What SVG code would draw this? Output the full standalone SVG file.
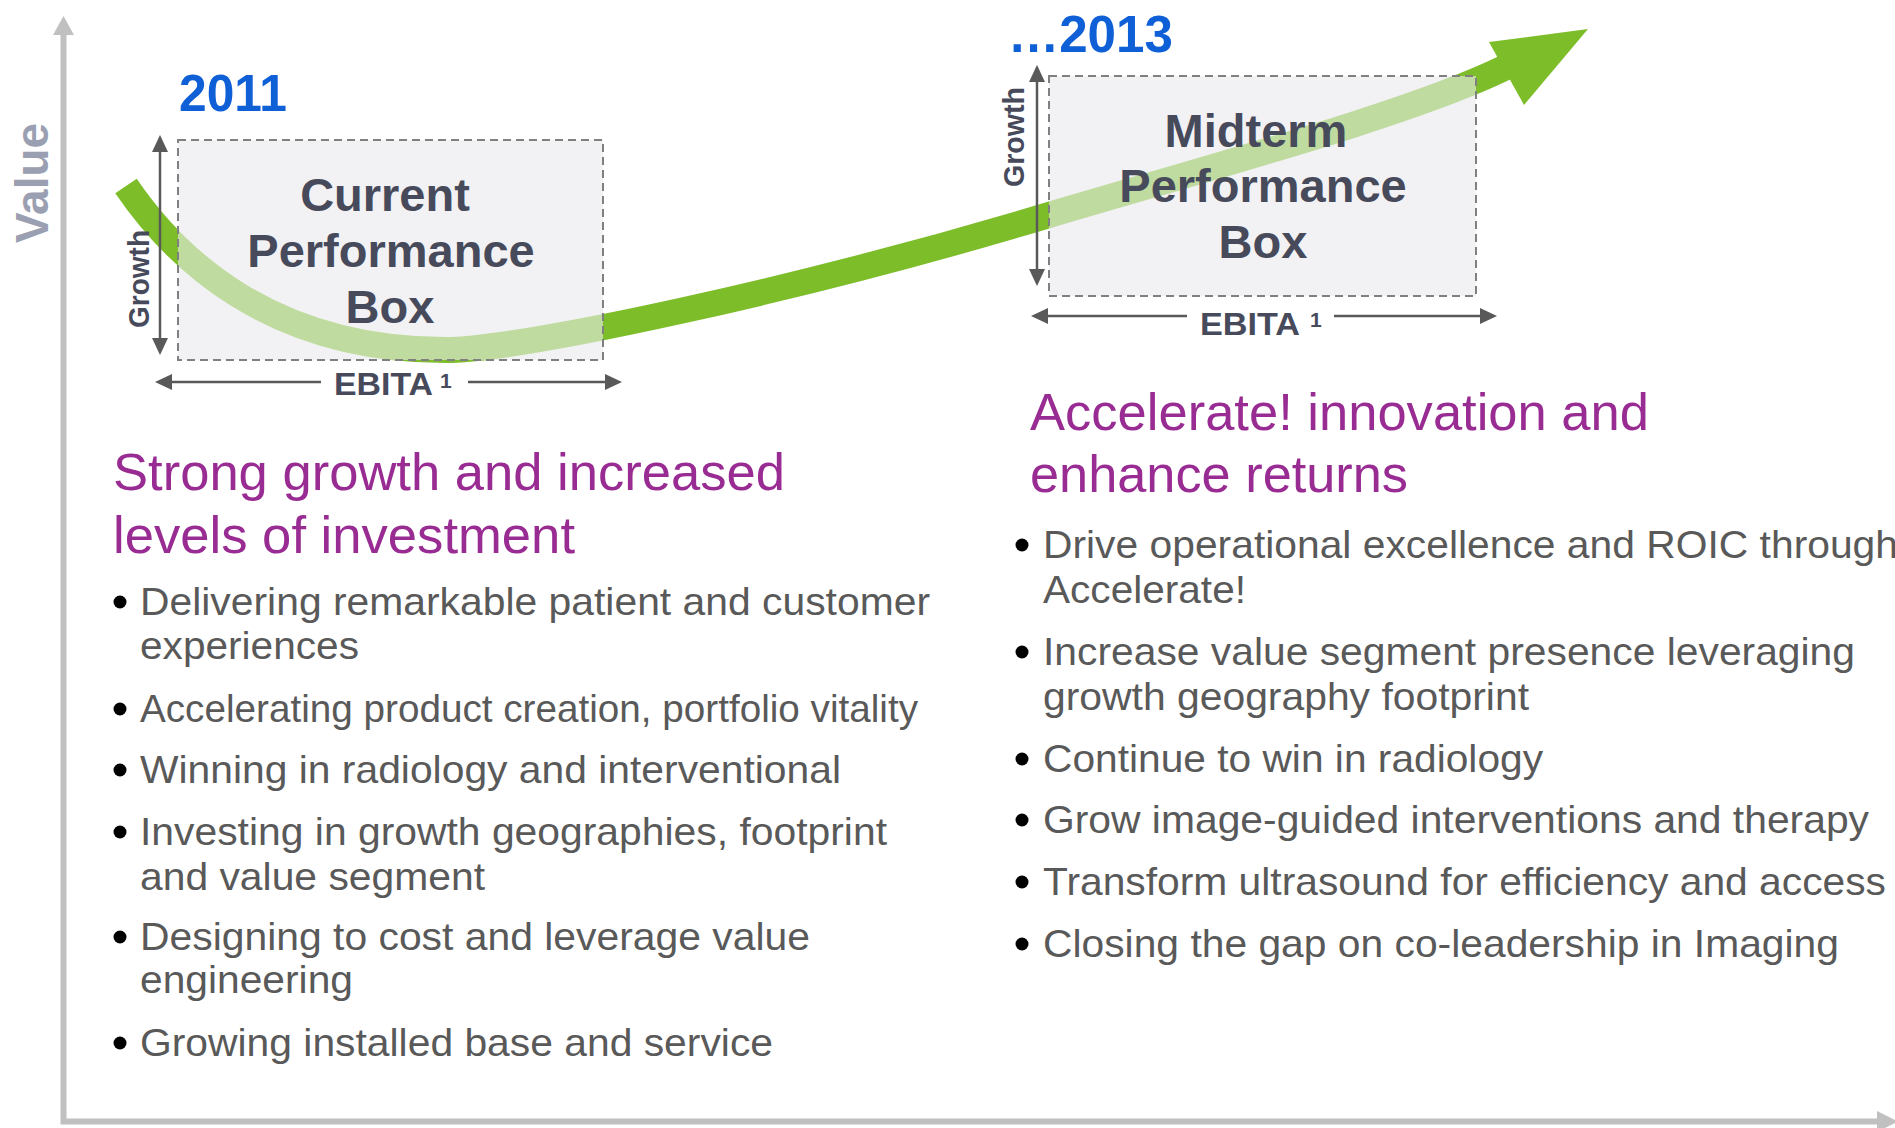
<svg xmlns="http://www.w3.org/2000/svg" width="1895" height="1128" viewBox="0 0 1895 1128">
  <defs>
    <style>
      .sans { font-family: "Liberation Sans", Arial, sans-serif; }
      .boxfill { fill: #f2f2f4; }
      .boxveil { fill: #f2f2f4; fill-opacity: 0.58; }
      .boxedge { fill: none; stroke: #808080; stroke-width: 2; stroke-dasharray: 8 5; }
      .boxlabel { font-family: "Liberation Sans", Arial, sans-serif; font-weight: bold; font-size: 47px; fill: #474a5b; text-anchor: middle; }
      .dim { stroke: #595959; stroke-width: 2.5; fill: none; }
      .dimlabel { font-family: "Liberation Sans", Arial, sans-serif; font-weight: bold; fill: #474a5b; }
      .year { font-family: "Liberation Sans", Arial, sans-serif; font-weight: bold; font-size: 51px; fill: #0f5fd7; }
      .heading { font-family: "Liberation Sans", Arial, sans-serif; font-size: 52px; fill: #992c93; }
      .item { font-family: "Liberation Sans", Arial, sans-serif; font-size: 39px; fill: #595959; }
      .dot { fill: #000; }
      .axis { stroke: #c0c0c0; stroke-width: 6; fill: none; }
      .trend { stroke: #7dbd2a; stroke-width: 26; fill: none; stroke-linecap: butt; }
    </style>
    <marker id="tip" viewBox="0 -8 17 16" refX="0" refY="0" markerWidth="17" markerHeight="16" markerUnits="userSpaceOnUse" orient="auto-start-reverse">
      <path d="M0,-8 L17,0 L0,8 Z" fill="#595959"/>
    </marker>
  </defs>

  <rect width="1895" height="1128" fill="#ffffff"/>

  <!-- value / time axes -->
  <g id="axes">
    <path class="axis" d="M63.5,34 V1121.5 H1878"/>
    <polygon points="53,35 63.5,16 74,35" fill="#c0c0c0"/>
    <polygon points="1877,1111 1898,1121.5 1877,1132" fill="#c0c0c0"/>
    <text class="sans" transform="translate(48,183) rotate(-90)" text-anchor="middle" font-size="47" font-weight="bold" fill="#9aa0b2" textLength="120" lengthAdjust="spacingAndGlyphs">Value</text>
  </g>

  <!-- opaque box backgrounds, drawn under the trend line -->
  <g id="box-backgrounds">
    <rect class="boxfill" x="178" y="140" width="425" height="220"/>
    <rect class="boxfill" x="1049" y="76" width="427" height="220"/>
  </g>

  <!-- trend line from the current box to the midterm box -->
  <g id="connectors">
    <path class="trend" d="M126,186 C175,258 270,350 445,350 C520,350 800,290 1049,215 C1200,170 1422,111 1512,64"/>
    <polygon points="1489,42 1588,29 1524,105" fill="#7dbd2a"/>
  </g>

  <g id="box-current">
    <rect class="boxveil" x="178" y="140" width="425" height="220"/>
    <rect class="boxedge" x="178" y="140" width="425" height="220"/>
    <text class="boxlabel" x="385" y="211">Current</text>
    <text class="boxlabel" x="391" y="267">Performance</text>
    <text class="boxlabel" x="390" y="323">Box</text>
    <text class="year" x="179" y="111" textLength="108" lengthAdjust="spacingAndGlyphs">2011</text>
    <line class="dim" x1="160" y1="152" x2="160" y2="338" marker-start="url(#tip)" marker-end="url(#tip)"/>
    <text class="dimlabel" font-size="29" transform="translate(149,279) rotate(-90)" text-anchor="middle" textLength="98" lengthAdjust="spacingAndGlyphs">Growth</text>
    <line class="dim" x1="172" y1="382" x2="321" y2="382" marker-start="url(#tip)"/>
    <line class="dim" x1="468" y1="382" x2="605" y2="382" marker-end="url(#tip)"/>
    <text class="dimlabel" font-size="32" x="334" y="395" textLength="99" lengthAdjust="spacingAndGlyphs">EBITA</text>
    <text class="dimlabel" font-size="21" x="440" y="388">1</text>
  </g>

  <g id="box-midterm">
    <rect class="boxveil" x="1049" y="76" width="427" height="220"/>
    <rect class="boxedge" x="1049" y="76" width="427" height="220"/>
    <text class="boxlabel" x="1256" y="147">Midterm</text>
    <text class="boxlabel" x="1263" y="202">Performance</text>
    <text class="boxlabel" x="1263" y="258">Box</text>
    <text class="year" x="1008" y="52" textLength="165" lengthAdjust="spacingAndGlyphs">…2013</text>
    <line class="dim" x1="1037" y1="82" x2="1037" y2="269" marker-start="url(#tip)" marker-end="url(#tip)"/>
    <text class="dimlabel" font-size="29" transform="translate(1024,137) rotate(-90)" text-anchor="middle" textLength="100" lengthAdjust="spacingAndGlyphs">Growth</text>
    <line class="dim" x1="1048" y1="316" x2="1187" y2="316" marker-start="url(#tip)"/>
    <line class="dim" x1="1334" y1="316" x2="1480" y2="316" marker-end="url(#tip)"/>
    <text class="dimlabel" font-size="32" x="1200" y="335" textLength="100" lengthAdjust="spacingAndGlyphs">EBITA</text>
    <text class="dimlabel" font-size="21" x="1310" y="327">1</text>
  </g>

  <!-- 2011 priorities -->
  <g id="list-current">
    <text class="heading" x="113" y="490" textLength="672" lengthAdjust="spacingAndGlyphs">Strong growth and increased</text>
    <text class="heading" x="113" y="553" textLength="462" lengthAdjust="spacingAndGlyphs">levels of investment</text>

    <circle class="dot" cx="120" cy="602" r="6.5"/>
    <text class="item" x="140" y="615" textLength="790" lengthAdjust="spacingAndGlyphs">Delivering remarkable patient and customer</text>
    <text class="item" x="140" y="659" textLength="219" lengthAdjust="spacingAndGlyphs">experiences</text>

    <circle class="dot" cx="120" cy="709" r="6.5"/>
    <text class="item" x="140" y="722" textLength="778" lengthAdjust="spacingAndGlyphs">Accelerating product creation, portfolio vitality</text>

    <circle class="dot" cx="120" cy="770" r="6.5"/>
    <text class="item" x="140" y="783" textLength="701" lengthAdjust="spacingAndGlyphs">Winning in radiology and interventional</text>

    <circle class="dot" cx="120" cy="832" r="6.5"/>
    <text class="item" x="140" y="845" textLength="747" lengthAdjust="spacingAndGlyphs">Investing in growth geographies, footprint</text>
    <text class="item" x="140" y="890" textLength="345" lengthAdjust="spacingAndGlyphs">and value segment</text>

    <circle class="dot" cx="120" cy="937" r="6.5"/>
    <text class="item" x="140" y="950" textLength="670" lengthAdjust="spacingAndGlyphs">Designing to cost and leverage value</text>
    <text class="item" x="140" y="993" textLength="213" lengthAdjust="spacingAndGlyphs">engineering</text>

    <circle class="dot" cx="120" cy="1043" r="6.5"/>
    <text class="item" x="140" y="1056" textLength="633" lengthAdjust="spacingAndGlyphs">Growing installed base and service</text>
  </g>

  <!-- 2013 priorities -->
  <g id="list-midterm">
    <text class="heading" x="1030" y="430" textLength="619" lengthAdjust="spacingAndGlyphs">Accelerate! innovation and</text>
    <text class="heading" x="1030" y="492" textLength="378" lengthAdjust="spacingAndGlyphs">enhance returns</text>

    <circle class="dot" cx="1022" cy="545" r="6.5"/>
    <text class="item" x="1043" y="558" textLength="855" lengthAdjust="spacingAndGlyphs">Drive operational excellence and ROIC through</text>
    <text class="item" x="1043" y="603" textLength="203" lengthAdjust="spacingAndGlyphs">Accelerate!</text>

    <circle class="dot" cx="1022" cy="652" r="6.5"/>
    <text class="item" x="1043" y="665" textLength="812" lengthAdjust="spacingAndGlyphs">Increase value segment presence leveraging</text>
    <text class="item" x="1043" y="710" textLength="486" lengthAdjust="spacingAndGlyphs">growth geography footprint</text>

    <circle class="dot" cx="1022" cy="759" r="6.5"/>
    <text class="item" x="1043" y="772" textLength="500" lengthAdjust="spacingAndGlyphs">Continue to win in radiology</text>

    <circle class="dot" cx="1022" cy="820" r="6.5"/>
    <text class="item" x="1043" y="833" textLength="826" lengthAdjust="spacingAndGlyphs">Grow image-guided interventions and therapy</text>

    <circle class="dot" cx="1022" cy="882" r="6.5"/>
    <text class="item" x="1043" y="895" textLength="843" lengthAdjust="spacingAndGlyphs">Transform ultrasound for efficiency and access</text>

    <circle class="dot" cx="1022" cy="944" r="6.5"/>
    <text class="item" x="1043" y="957" textLength="796" lengthAdjust="spacingAndGlyphs">Closing the gap on co-leadership in Imaging</text>
  </g>
</svg>
